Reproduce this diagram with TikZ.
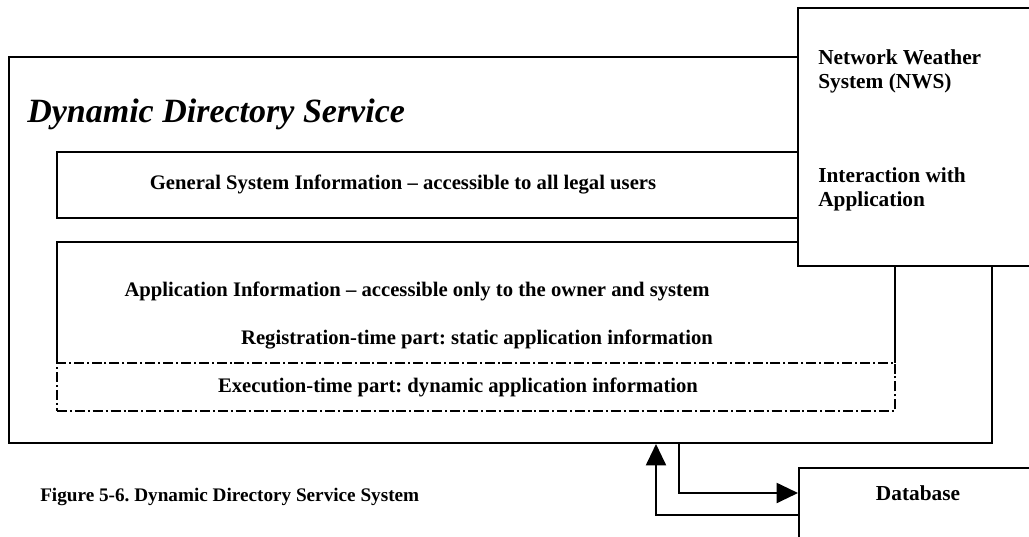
\documentclass[tikz,border=0pt]{standalone}
\usepackage{fontspec}
\setmainfont{Liberation Serif}
\usetikzlibrary{fit,arrows.meta}
\frenchspacing
\begin{document}
\begin{tikzpicture}[x=0.75pt,y=-0.75pt,
  frame/.style={draw, line width=1.5pt, inner sep=0pt},
  dashdot/.style={draw, line width=1.1pt, inner sep=0pt,
    dash pattern=on 7.5pt off 2.2pt on 1.5pt off 2.2pt},
  lbl/.style={font=\bfseries\fontsize{15.5}{18}\selectfont, inner sep=0pt},
  sidelbl/.style={font=\bfseries\fontsize{16}{18.5}\selectfont, inner sep=0pt,
    align=left, anchor=north west},
  link/.style={line width=1.5pt},
  tip/.style={-{Triangle[length=16pt,width=15pt]}}
]
\useasboundingbox (0,0) rectangle (1029,536);
\clip (0,0) rectangle (1029,536);

% outer service frame
\node[frame, fit={(9,57)(992,443)}] (dds) {};
\node[anchor=west, inner sep=0pt,
  font=\bfseries\itshape\fontsize{25.5}{30}\selectfont] (title) at (27,114)
  {Dynamic Directory Service};

% general information band
\node[frame, fit={(57,152)(798,218)}] (gsi) {};
\node[lbl] (gsitext) at (403,185)
  {General System Information -- accessible to all legal users};

% application information: solid top and sides, dash-dot lower part
\node[inner sep=0pt, fit={(57,242)(895,363)}] (app) {};
\draw[line width=1.5pt] (app.south west) -- (app.north west)
  -- (app.north east) -- (app.south east);
\node[dashdot, fit={(57,363)(895,411)}] (exe) {};
\node[lbl] (apptext) at (417,291)
  {Application Information -- accessible only to the owner and system};
\node[lbl] (regtext) at (477,339)
  {Registration-time part: static application information};
\node[lbl] (exetext) at (458,387)
  {Execution-time part: dynamic application information};

% NWS box laid over the frames
\node[frame, fill=white, fit={(798,8)(1045,266)}] (nws) {};
\node[sidelbl] (nwsname) at (818,49) {Network Weather\\System (NWS)};
\node[sidelbl] (nwsinter) at (818,167) {Interaction with\\Application};

% database box
\node[frame, fill=white, fit={(799,468)(1045,560)}] (db) {};
\node[font=\bfseries\fontsize{16}{18}\selectfont, inner sep=0pt]
  (dbtext) at (918,493) {Database};

% exchange between the service and the database
\coordinate (up) at (656,515);
\coordinate (dn) at (679,493);
\draw[link, tip] (up -| db.west) -- (up) -- (up |- dds.south);
\draw[link, tip] (dn |- dds.south) -- (dn) -- (dn -| db.west);

% caption
\node[anchor=west, inner sep=0pt, font=\bfseries\fontsize{14.4}{17}\selectfont]
  (caption) at (40,497) {Figure 5-6. Dynamic Directory Service System};
\end{tikzpicture}
\end{document}
